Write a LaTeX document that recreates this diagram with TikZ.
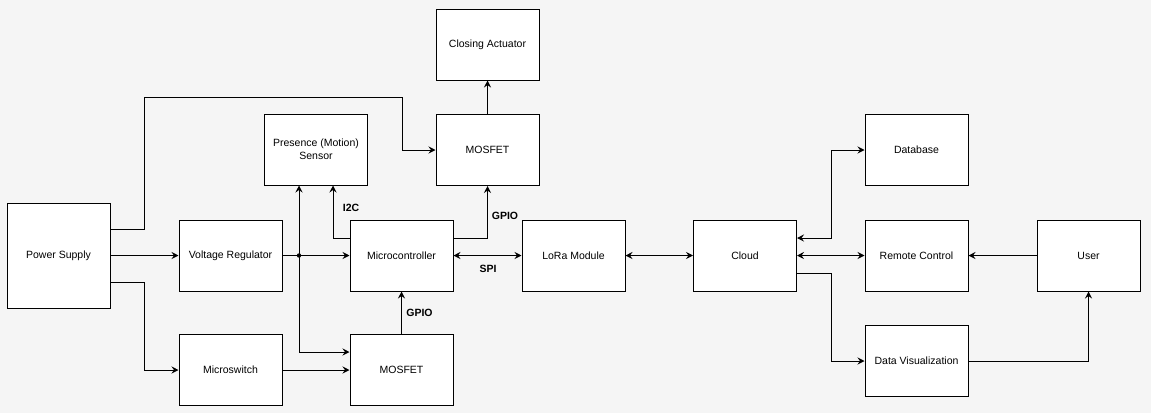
\documentclass[tikz,border=0pt]{standalone}
\usepackage{fontspec}
\setmainfont{Liberation Sans}
\usetikzlibrary{arrows.meta}
\definecolor{bgcol}{HTML}{F5F5F5}

\begin{document}
\begin{tikzpicture}[x=1pt, y=-1pt, line width=1pt, >={Stealth[length=7pt, width=7pt, inset=2.5pt]},
    block/.style={draw, fill=white, minimum width=103pt, minimum height=71pt, align=center, inner sep=2pt, font=\fontsize{10.5}{13}\selectfont},
    lbl/.style={inner sep=0pt, font=\fontsize{10.5}{13}\selectfont\bfseries}]
        \fill[bgcol] (0,0) rectangle (1151,413);
        \useasboundingbox (0,0) rectangle (1151,413);

        \node[block, minimum height=105pt] (ps) at (58.5,255.5) {Power Supply};
        \node[block] (vreg) at (230.5,255.5) {Voltage Regulator};
        \node[block] (sensor) at (316,149.5) {Presence (Motion)\\Sensor};
        \node[block] (mcu) at (401.5,255.5) {Microcontroller};
        \node[block] (mswitch) at (230.5,370) {Microswitch};
        \node[block] (mosfetb) at (401.5,370) {MOSFET};
        \node[block] (mosfett) at (487.5,150) {MOSFET};
        \node[block] (actuator) at (487.5,44.5) {Closing Actuator};
        \node[block] (lora) at (573.5,255.5) {LoRa Module};
        \node[block] (cloud) at (745,255.5) {Cloud};
        \node[block] (db) at (916.5,150) {Database};
        \node[block] (remote) at (916.5,255.5) {Remote Control};
        \node[block] (dataviz) at (916.5,361) {Data Visualization};
        \node[block] (user) at (1088.5,255.5) {User};

        \coordinate (split) at (299,255.5);
        \fill (split) circle (2.2pt);

        \draw[->] ([yshift=26.5pt]ps.east) -- (144,229) -- (144,97) -- (402,97) |- (mosfett.west);
        \draw[->] (ps) -- (vreg);
        \draw[->] ([yshift=-26.5pt]ps.east) -- (144,282) |- (mswitch.west);
        \draw[->] (vreg) -- (mcu);
        \draw[->] (split) -- (split |- sensor.south);
        \draw[->] (split) |- ([yshift=18pt]mosfetb.west);
        \draw[->] ([yshift=17.5pt]mcu.west) -| ([xshift=17pt]sensor.south);
        \draw[->] (mswitch) -- (mosfetb);
        \draw[->] (mosfetb) -- (mcu);
        \draw[->] ([yshift=17.5pt]mcu.east) -| (mosfett.south);
        \draw[->] (mosfett) -- (actuator);
        \draw[<->] (mcu) -- (lora);
        \draw[<->] (lora) -- (cloud);
        \draw[<->] ([yshift=17.5pt]cloud.east) -- ++(34,0) |- (db.west);
        \draw[<->] (cloud) -- (remote);
        \draw[->] ([yshift=-17.5pt]cloud.east) -- ++(34,0) |- (dataviz.west);
        \draw[->] (user) -- (remote);
        \draw[->] (dataviz) -| (user);

        \node[lbl] (i2c) at (351,208) {I2C};
        \node[lbl] (gpiob) at (419.5,313) {GPIO};
        \node[lbl] (gpiot) at (505,216) {GPIO};
        \node[lbl] (spi) at (488,269) {SPI};
      \end{tikzpicture}
\end{document}
